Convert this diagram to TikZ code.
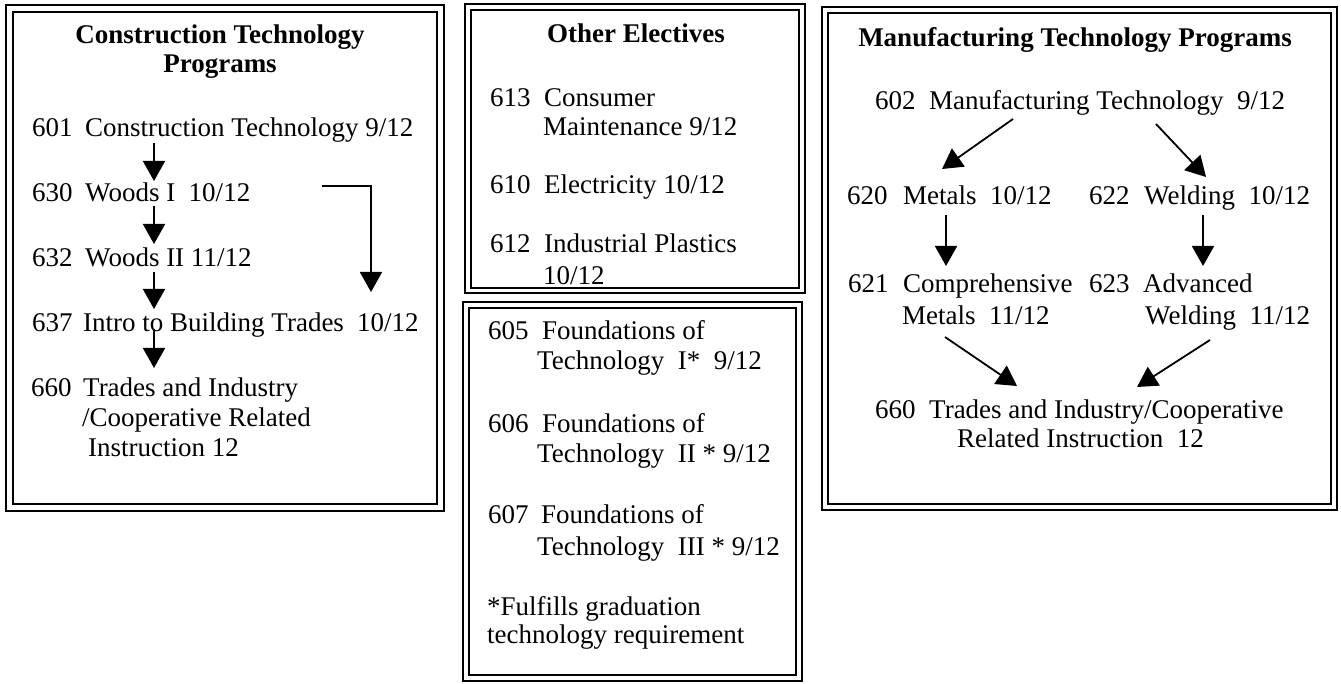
\documentclass[tikz,border=0pt]{standalone}
\usepackage{fontspec}
\setmainfont{Liberation Serif}
\usetikzlibrary{arrows.meta}
\begin{document}
\begin{tikzpicture}[x=1pt,y=-1pt,
  txt/.style={anchor=base west,inner sep=0pt,font=\fontsize{27}{31}\selectfont},
  ttl/.style={anchor=base,inner sep=0pt,font=\fontsize{27}{31}\selectfont\bfseries},
  outerb/.style={line width=2.6pt},
  innerb/.style={line width=1.5pt},
  arr/.style={line width=1.8pt,-{Triangle[length=20pt,width=22pt]}}]
\useasboundingbox (0,0) rectangle (1341,684);
\fill[white] (0,0) rectangle (1341,684);

% ---------- Box 1: Construction ----------
\node[ttl] (b1t1) at (220,44) {Construction Technology};
\node[ttl] (b1t2) at (220,73) {Programs};
\node[txt] (n601) at (32,137) {601};
\node[txt] (t601) at (85,137) {Construction Technology 9/12};
\node[txt] (n630) at (32,202) {630};
\node[txt] (t630) at (85,202) {Woods I~ 10/12};
\node[txt] (n632) at (32,267) {632};
\node[txt] (t632) at (85,267) {Woods II 11/12};
\node[txt] (n637) at (32,332) {637};
\node[txt] (t637) at (83,332) {Intro to Building Trades};
\node[txt] (g637) at (357,332) {10/12};
\node[txt] (n660a) at (31,396) {660};
\node[txt] (t660a) at (83,396) {Trades and Industry};
\node[txt] (t660b) at (82,426) {/Cooperative Related};
\node[txt] (t660c) at (88,456) {Instruction 12};

\coordinate (c1s) at (154,143); \coordinate (c1e) at (154,181);
\coordinate (c2s) at (154,206); \coordinate (c2e) at (154,244);
\coordinate (c3s) at (154,272); \coordinate (c3e) at (154,309);
\coordinate (c4s) at (154,329); \coordinate (c4e) at (154,368);
\coordinate (cbs) at (322,186); \coordinate (cbm) at (371,186); \coordinate (cbe) at (371,292);
\draw[arr] (c1s) -- (c1e);
\draw[arr] (c2s) -- (c2e);
\draw[arr] (c3s) -- (c3e);
\draw[arr] (c4s) -- (c4e);
\draw[arr] (cbs) -- (cbm) -- (cbe);

\draw[outerb] (6,5) rectangle (444,511);
\draw[innerb] (13,12) rectangle (437,504);

% ---------- Box 2: Other Electives ----------
\node[ttl] (b2t) at (636,43) {Other Electives};
\node[txt] (n613) at (490,107) {613};
\node[txt] (t613a) at (544,107) {Consumer};
\node[txt] (t613b) at (543,136) {Maintenance 9/12};
\node[txt] (n610) at (490,194) {610};
\node[txt] (t610) at (544,194) {Electricity 10/12};
\node[txt] (n612) at (490,253) {612};
\node[txt] (t612a) at (544,253) {Industrial Plastics};
\node[txt] (t612b) at (543,285) {10/12};

\fill[white] (466,288) rectangle (804,300);
\draw[outerb] (465,4) rectangle (805,293);
\draw[innerb] (471,10) rectangle (799,288);

% ---------- Box 3: Foundations ----------
\node[txt] (n605) at (488,340) {605};
\node[txt] (t605a) at (542,340) {Foundations of};
\node[txt] (t605b) at (537,370) {Technology~ I*~ 9/12};
\node[txt] (n606) at (488,432) {606};
\node[txt] (t606a) at (542,432) {Foundations of};
\node[txt] (t606b) at (537,462) {Technology~ II * 9/12};
\node[txt] (n607) at (488,523) {607};
\node[txt] (t607a) at (541,523) {Foundations of};
\node[txt] (t607b) at (537,555) {Technology~ III * 9/12};
\node[txt] (fn1) at (487,615) {*Fulfills graduation};
\node[txt] (fn2) at (487,643) {technology requirement};

\draw[outerb] (463,302) rectangle (802,681);
\draw[innerb] (469,308) rectangle (796,675);

% ---------- Box 4: Manufacturing ----------
\node[ttl] (b4t) at (1075,47) {Manufacturing Technology Programs};
\node[txt] (t602) at (875,110) {602~ Manufacturing Technology~ 9/12};
\node[txt] (n620) at (847,205) {620};
\node[txt] (t620) at (903,205) {Metals~ 10/12};
\node[txt] (n622) at (1089,205) {622};
\node[txt] (t622) at (1144,205) {Welding~ 10/12};
\node[txt] (n621) at (848,293) {621};
\node[txt] (t621a) at (903,293) {Comprehensive};
\node[txt] (t621b) at (902,325) {Metals~ 11/12};
\node[txt] (n623) at (1089,293) {623};
\node[txt] (t623a) at (1143,293) {Advanced};
\node[txt] (t623b) at (1145,325) {Welding~ 11/12};
\node[txt] (t660m1) at (875,418) {660~ Trades and Industry/Cooperative};
\node[txt] (t660m2) at (957,447) {Related Instruction~ 12};

\coordinate (m1s) at (1013,119); \coordinate (m1e) at (942,169);
\coordinate (m2s) at (1156,124); \coordinate (m2e) at (1206,177);
\coordinate (m3s) at (946,215); \coordinate (m3e) at (946,266);
\coordinate (m4s) at (1203,215); \coordinate (m4e) at (1203,266);
\coordinate (m5s) at (945,337); \coordinate (m5e) at (1017,386);
\coordinate (m6s) at (1210,340); \coordinate (m6e) at (1137,387);
\draw[arr] (m1s) -- (m1e);
\draw[arr] (m2s) -- (m2e);
\draw[arr] (m3s) -- (m3e);
\draw[arr] (m4s) -- (m4e);
\draw[arr] (m5s) -- (m5e);
\draw[arr] (m6s) -- (m6e);

\draw[outerb] (822,7) rectangle (1337,510);
\draw[innerb] (828,13) rectangle (1331,504);
\end{tikzpicture}
\end{document}
